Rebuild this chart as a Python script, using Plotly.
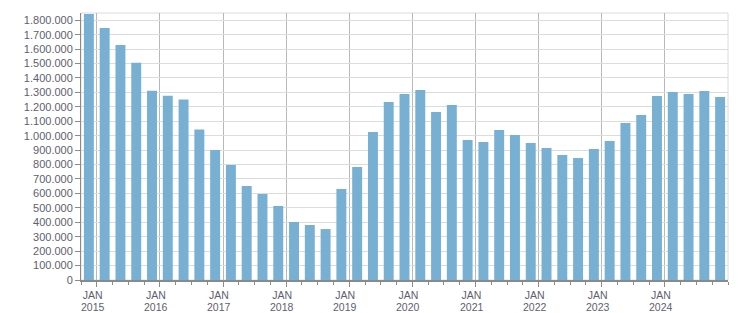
import plotly.graph_objects as go

quarters = ["2014 Q4"] + [f"{y} Q{q}" for y in range(2015, 2025) for q in range(1, 5)]
values = [1843000, 1746000, 1629000, 1506000, 1312000, 1277000, 1250000, 1042000,
          901000, 797000, 651000, 596000, 513000, 402000, 381000, 353000,
          631000, 783000, 1026000, 1234000, 1289000, 1317000, 1164000, 1213000,
          970000, 956000, 1040000, 1005000, 949000, 915000, 866000, 845000,
          908000, 963000, 1088000, 1143000, 1275000, 1303000, 1289000, 1310000,
          1268000]
years = list(range(2015, 2025))
y_ticks = list(range(0, 1800001, 100000))

xi = list(range(len(quarters)))
jan_pos = [quarters.index(f"{y} Q1") - 0.5 for y in years]

font = dict(family="Liberation Sans, Arial, sans-serif", size=11, color="#5e5e70")
xfont = dict(family="Liberation Sans, Arial, sans-serif", size=10.5, color="#5e5e70")

fig = go.Figure(go.Bar(x=xi, y=values, width=0.63, marker_color="#78b0d3",
                       marker_line_width=0, hovertext=quarters))

year_annotations = [dict(x=p, y=0, xref="x", yref="paper", text=str(y), showarrow=False,
                         xanchor="center", yanchor="middle", xshift=-4, yshift=-27,
                         font=xfont, borderpad=0)
                    for p, y in zip(jan_pos, years)]

fig.update_layout(
    width=751, height=313, margin=dict(l=81, r=23, t=13, b=33),
    plot_bgcolor="white", paper_bgcolor="white", showlegend=False,
    separators=",.", font=font,
    shapes=[dict(type="rect", xref="paper", yref="paper", x0=0, x1=1, y0=0, y1=1,
                 line=dict(color="#dcdcdc", width=1), layer="below")],
    annotations=year_annotations,
)
fig.update_xaxes(
    range=[-0.5, len(quarters) - 0.5], tickmode="array", tickvals=jan_pos,
    ticktext=["JAN" for _ in years], showgrid=True, gridcolor="#b8b8b8",
    gridwidth=1, showline=True, linecolor="#8a8a8a", linewidth=2,
    ticks="outside", ticklen=5, tickcolor="#8a8a8a", tickfont=xfont,
    ticklabelshift=-4, ticklabelstandoff=-1, zeroline=False, automargin=False,
    minor=dict(tickmode="linear", tick0=0.5, dtick=1, ticks="outside", ticklen=3,
               tickcolor="#8a8a8a", showgrid=False),
)
fig.update_yaxes(
    range=[0, 1850000], tickmode="array", tickvals=y_ticks, tickformat=",.0f",
    showgrid=True, gridcolor="#dcdcdc", gridwidth=1, showline=True,
    linecolor="#8a8a8a", linewidth=1, ticks="outside", ticklen=5,
    tickcolor="#8a8a8a", tickfont=font, zeroline=False, automargin=False,
)
fig.write_html("out.html")
